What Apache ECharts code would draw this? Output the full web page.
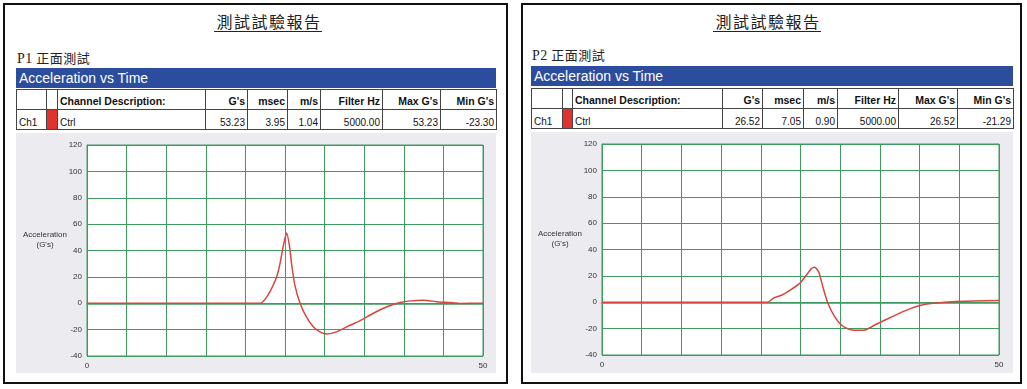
<!DOCTYPE html>
<html>
<head>
<meta charset="utf-8">
<script src="https://cdn.jsdelivr.net/npm/echarts@6/dist/echarts.min.js"></script>
<style>
body{margin:0;width:1027px;height:389px;background:#fff;position:relative;overflow:hidden;font-family:"Liberation Sans",Arial,sans-serif;}
.panel{position:absolute;border:2px solid #111;box-sizing:border-box;}
.title{position:absolute;width:200px;text-align:center;font-family:"Noto Sans CJK TC",sans-serif;font-size:16px;letter-spacing:1.5px;color:#222;}
.title span{border-bottom:1px solid #222;padding:0 0 1px 2px;line-height:17px;display:inline-block;}
.sub{position:absolute;font-family:"Noto Sans CJK TC",sans-serif;font-size:13px;color:#222;line-height:16px;letter-spacing:0.5px;}
.sub b{font-family:"Liberation Serif",serif;font-weight:normal;font-size:14px;}
.bar{position:absolute;background:#2c4d9e;color:#fff;font-size:14px;line-height:20px;padding-left:3px;box-sizing:border-box;}
table{position:absolute;border-collapse:collapse;table-layout:fixed;font-size:10px;color:#111;}
td{border:1px solid #444;height:20px;padding:0 2px 1px 2px;text-align:right;vertical-align:bottom;white-space:nowrap;overflow:hidden;box-sizing:border-box;}
tr.head td{font-weight:bold;font-size:10.5px;padding-bottom:2px;}
td.l{text-align:left;}
td.red{background:#e0332e;}
.chart{position:absolute;background:#ececf0;}
</style>
</head>
<body>
<div class="panel" style="left:3px;top:3px;width:505px;height:381px;"></div>
<div class="panel" style="left:521px;top:3px;width:501px;height:381px;"></div>

<div class="title" style="left:168px;top:9px;"><span>測試試驗報告</span></div>
<div class="title" style="left:667px;top:9px;"><span>測試試驗報告</span></div>

<div class="sub" style="left:17px;top:50px;"><b>P1</b> 正面測試</div>
<div class="sub" style="left:532px;top:47px;"><b>P2</b> 正面測試</div>

<div class="bar" style="left:16px;top:68px;width:480px;height:20px;">Acceleration vs Time</div>
<div class="bar" style="left:531px;top:66px;width:482px;height:20px;">Acceleration vs Time</div>

<table id="tab1" style="left:16px;top:89px;width:480px;"></table>
<table id="tab2" style="left:531px;top:88px;width:482px;"></table>

<div class="chart" id="c1" style="left:16px;top:133px;width:480px;height:240px;"></div>
<div class="chart" id="c2" style="left:531px;top:132px;width:482px;height:241px;"></div>

<script>
// table
var headers = ['', '', 'Channel Description:', "G's", 'msec', 'm/s', 'Filter Hz', "Max G's", "Min G's"];
var row1 = ['Ch1', '', 'Ctrl', '53.23', '3.95', '1.04', '5000.00', '53.23', '-23.30'];
var row2 = ['Ch1', '', 'Ctrl', '26.52', '7.05', '0.90', '5000.00', '26.52', '-21.29'];
var cols1 = [30, 11, 148, 42, 40, 33, 62, 58, 56];
var cols2 = [31, 10, 150, 40, 41, 34, 61, 59, 56];

// P1 curve (msec, G's)
var time1 = [0, 21.9, 22.7, 23.5, 24.0, 24.4, 24.8, 25.2, 25.55, 25.85, 26.25, 26.9, 27.7, 28.6, 29.4, 30.3,
    31.5, 33.2, 34.5, 35.7, 36.4, 37.8, 39.5, 40.8, 42.5, 44.1, 45.8, 47.1, 50];
var accel1 = [0, 0, 4.8, 13.6, 21, 31, 44, 53.2, 44, 29, 13.6, 0, -10.4, -18, -21.7, -23.3,
    -21.7, -16.7, -13.2, -9.1, -6.8, -2.8, 0.5, 1.8, 2.3, 1.2, 0.5, -0.1, 0];

// P2 curve
var time2 = [0, 20.9, 21.5, 22.6, 23.8, 24.9, 25.75, 26.35, 26.8, 27.3, 27.8, 28.45, 29.3, 30.15, 31.0, 31.8,
    33.1, 34.6, 36.7, 38.3, 40.0, 41.7, 44.2, 46.7, 50];
var accel2 = [0, 0, 2.8, 5.3, 9.6, 14.3, 20.6, 25.3, 26.5, 23, 12, -0.8, -10.9, -17.2, -20.2, -21.3,
    -21, -16.5, -10.5, -6.2, -2.5, -0.8, 0.4, 0.9, 1.3];

function buildTable(id, widths, vals) {
    var html = '<colgroup>';
    widths.forEach(function (w) { html += '<col style="width:' + w + 'px">'; });
    html += '</colgroup><tr class="head">';
    headers.forEach(function (h, i) {
        html += '<td class="' + (i == 2 ? 'l' : '') + '">' + h + '</td>';
    });
    html += '</tr><tr>';
    vals.forEach(function (v, i) {
        var cls = i == 1 ? 'red' : (i == 0 || i == 2 ? 'l' : '');
        html += '<td class="' + cls + '">' + v + '</td>';
    });
    html += '</tr>';
    document.getElementById(id).innerHTML = html;
}
buildTable('tab1', cols1, row1);
buildTable('tab2', cols2, row2);

var green = '#3f9a5f';

function makeChart(id, w, t, a) {
    var chart = echarts.init(document.getElementById(id));
    chart.setOption({
        animation: false,
        grid: {
            left: 71, top: 12, width: w, height: 211, outerBoundsMode: 'none',
            show: true, backgroundColor: '#fff', borderColor: green, borderWidth: 1
        },
        graphic: [{
            type: 'text', x: 29, y: 97,
            style: {
                text: "Acceleration\n(G's)", textAlign: 'center', textVerticalAlign: 'top',
                font: '8px "Liberation Sans"', lineHeight: 10, fill: '#333'
            }
        }],
        xAxis: {
            type: 'value', min: 0, max: 50, interval: 5,
            name: 'Time (msec)', nameLocation: 'middle', nameGap: 10,
            nameTextStyle: {fontSize: 8, color: '#333', fontFamily: 'Liberation Sans'},
            axisLine: {lineStyle: {color: green, width: 1.5}},
            axisTick: {show: false},
            axisLabel: {
                fontSize: 8, color: '#333', margin: 6, fontFamily: 'Liberation Sans',
                formatter: function (v) { return (v === 0 || v === 50) ? v : ''; }
            },
            splitLine: {lineStyle: {color: green, width: 1}}
        },
        yAxis: {
            type: 'value', min: -40, max: 120, interval: 20,
            axisLine: {show: true, lineStyle: {color: green}},
            axisTick: {show: false},
            axisLabel: {fontSize: 8, color: '#333', margin: 5, fontFamily: 'Liberation Sans'},
            splitLine: {lineStyle: {color: green, width: 1}}
        },
        series: [{
            type: 'line',
            data: t.map(function (x, i) { return [x, a[i]]; }),
            showSymbol: false,
            smooth: 0.2,
            lineStyle: {color: '#d8453e', width: 1.5}
        }]
    });
}
makeChart('c1', 396, time1, accel1);
makeChart('c2', 397, time2, accel2);
</script>
</body>
</html>
